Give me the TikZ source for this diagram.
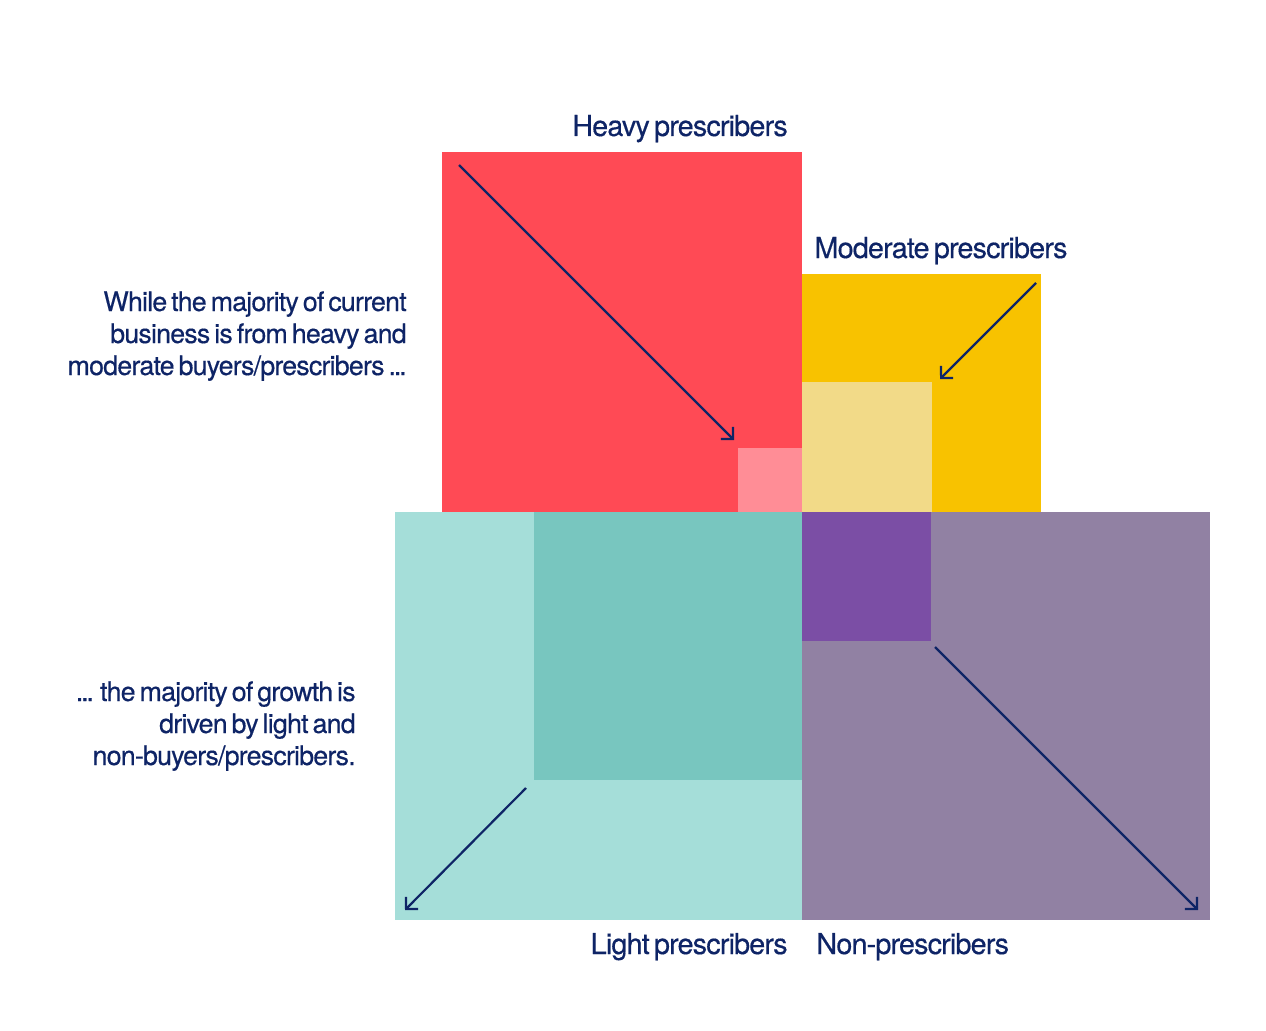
\documentclass[tikz,border=0pt]{standalone}
\usepackage{fontspec}
\setmainfont[LetterSpace=-3,WordSpace=0.6,FakeBold=0.4]{TeX Gyre Heros}
\usetikzlibrary{arrows.meta}
\definecolor{navy}{HTML}{0E2466}
\definecolor{cred}{HTML}{FF4A55}
\definecolor{cpink}{HTML}{FF8D96}
\definecolor{cyellow}{HTML}{F8C200}
\definecolor{clyellow}{HTML}{F2DA88}
\definecolor{clteal}{HTML}{A5DED9}
\definecolor{cteal}{HTML}{78C6BF}
\definecolor{cgrey}{HTML}{9181A3}
\definecolor{cpurple}{HTML}{7B4EA5}
\newcommand{\tightdots}{.\kern-0.08em.\kern-0.08em.}
\begin{document}
\begin{tikzpicture}[x=0.02cm,y=-0.02cm,
  lbl/.style={text=navy, inner sep=0pt, font=\fontsize{16.4}{18}\selectfont},
  side/.style={text=navy, inner sep=0pt, font=\fontsize{15.25}{18}\selectfont},
  arr/.style={draw=navy, line width=1.25pt, -{Straight Barb[length=4.8pt,width=9.7pt,line width=1.25pt]}}]
\useasboundingbox (0,0) rectangle (1266,1030);
% squares
\fill[cred] (442,152) rectangle (802,512);
\fill[cpink] (738,448) rectangle (802,512);
\fill[cyellow] (802,274) rectangle (1041,512);
\fill[clyellow] (802,382) rectangle (932,512);
\fill[clteal] (395,512) rectangle (802,920);
\fill[cteal] (534,512) rectangle (802,780);
\fill[cgrey] (802,512) rectangle (1210,920);
\fill[cpurple] (802,512) rectangle (931,641);
% arrow end points
\coordinate (h1) at (459,165);
\coordinate (h2) at (734,440);
\coordinate (m1) at (1036,283);
\coordinate (m2) at (940,379);
\coordinate (l1) at (526,788);
\coordinate (l2) at (405,910);
\coordinate (n1) at (935,647);
\coordinate (n2) at (1198,910);
\draw[arr] (h1) -- (h2);
\draw[arr] (m1) -- (m2);
\draw[arr] (l1) -- (l2);
\draw[arr] (n1) -- (n2);
% labels
\node[lbl, anchor=base] (heavy) at (680,136) {Heavy prescribers};
\node[lbl, anchor=base] (moderate) at (941,258) {Moderate prescribers};
\node[lbl, anchor=base east] (light) at (788,954) {Light prescribers};
\node[lbl, anchor=base west] (non) at (816,954) {Non-prescribers};
\node[side, anchor=base east] (t1) at (407,311) {While the majority of current};
\node[side, anchor=base east] (t2) at (407,343) {business is from heavy and};
\node[side, anchor=base east] (t3) at (407,375) {moderate buyers/prescribers \tightdots};
\node[side, anchor=base east] (b1) at (356,701) {\tightdots{} the majority of growth is};
\node[side, anchor=base east] (b2) at (356,733) {driven by light and};
\node[side, anchor=base east] (b3) at (356,765) {non-buyers/prescribers.};
\end{tikzpicture}
\end{document}
